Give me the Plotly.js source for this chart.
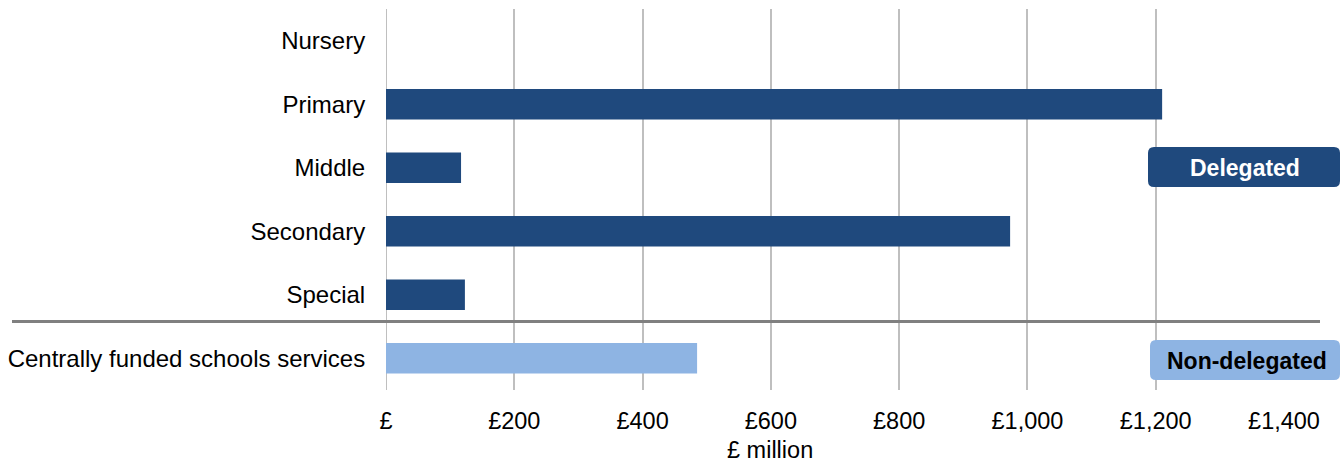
<!DOCTYPE html>
<html>
<head>
<meta charset="utf-8">
<script src="https://cdn.plot.ly/plotly-3.0.1.min.js"></script>
<style>html,body{margin:0;padding:0;background:#fff;}#chart{width:1343px;height:463px;}</style>
</head>
<body>
<div id="chart"></div>
<script>
const categories = ["Nursery", "Primary", "Middle", "Secondary", "Special", "Centrally funded schools services"];
const values = [0, 1210, 117, 973, 123, 485];
const groups = ["Delegated", "Delegated", "Delegated", "Delegated", "Delegated", "Non-delegated"];
const tickValues = [0, 200, 400, 600, 800, 1000, 1200, 1400];
const tickLabels = ["£", "£200", "£400", "£600", "£800", "£1,000", "£1,200", "£1,400"];
const groupLabels = ["Delegated", "Non-delegated"];
const axisTitle = "£ million";

const DARK = "#1F497D", LIGHT = "#8EB4E3";
const colorFor = g => g === "Delegated" ? DARK : LIGHT;

const trace = {
  type: "bar", orientation: "h",
  x: values, y: categories,
  marker: {color: groups.map(colorFor)},
  width: 0.48,
  hoverinfo: "x+y"
};

const plotL = 386, plotR = 1284, plotT = 9, plotB = 390;
const W = plotR - plotL, H = plotB - plotT;
const px = x => (x - plotL) / W;
const py = y => 1 - (y - plotT) / H;

function roundRect(x0, y0, x1, y1, r) {
  const X0 = px(x0), X1 = px(x1), Y0 = py(y0), Y1 = py(y1);
  const rx = r / W, ry = r / H;
  return `M ${X0+rx},${Y0} L ${X1-rx},${Y0} Q ${X1},${Y0} ${X1},${Y0-ry} L ${X1},${Y1+ry} Q ${X1},${Y1} ${X1-rx},${Y1} L ${X0+rx},${Y1} Q ${X0},${Y1} ${X0},${Y1+ry} L ${X0},${Y0-ry} Q ${X0},${Y0} ${X0+rx},${Y0} Z`;
}

const layout = {
  width: 1343, height: 463,
  margin: {l: plotL, r: 1343 - plotR, t: plotT, b: 463 - plotB, pad: 0},
  paper_bgcolor: "#fff", plot_bgcolor: "#fff",
  font: {family: "Liberation Sans, Arial, sans-serif", size: 24, color: "#000"},
  showlegend: false,
  xaxis: {
    range: [0, 1400],
    tickvals: tickValues, ticktext: tickLabels,
    showgrid: true, gridcolor: "#BFBFBF", gridwidth: 2,
    zeroline: false, showline: false,
    ticks: "outside", ticklen: 10, tickcolor: "rgba(0,0,0,0)",
    tickfont: {size: 23.5},
    fixedrange: true
  },
  yaxis: {
    type: "category",
    autorange: "reversed",
    showgrid: false, zeroline: false, showline: false,
    ticks: "outside", ticklen: 15, tickcolor: "rgba(0,0,0,0)",
    tickfont: {size: 24},
    fixedrange: true
  },
  shapes: [
    {type: "line", xref: "paper", yref: "y", x0: px(12), x1: px(1320), y0: 4.42, y1: 4.42,
     line: {color: "#808080", width: 3}},
    {type: "line", xref: "x", yref: "paper", x0: 0, x1: 0, y0: 0, y1: 1,
     line: {color: "#BFBFBF", width: 2}, layer: "below"},
    {type: "path", xref: "paper", yref: "paper", path: roundRect(1148, 147, 1340, 187, 6),
     fillcolor: DARK, line: {width: 0}},
    {type: "path", xref: "paper", yref: "paper", path: roundRect(1150, 340, 1340, 380, 6),
     fillcolor: LIGHT, line: {width: 0}}
  ],
  annotations: [
    {xref: "paper", yref: "paper", x: px(1245), y: py(168), text: "<b>" + groupLabels[0] + "</b>",
     showarrow: false, font: {size: 23, color: "#fff"}, xanchor: "center", yanchor: "middle"},
    {xref: "paper", yref: "paper", x: px(1247), y: py(361), text: "<b>" + groupLabels[1] + "</b>",
     showarrow: false, font: {size: 23, color: "#000"}, xanchor: "center", yanchor: "middle"},
    {xref: "paper", yref: "paper", x: px(770), y: py(450), text: axisTitle,
     showarrow: false, font: {size: 23.5, color: "#000"}, xanchor: "center", yanchor: "middle"}
  ]
};

Plotly.newPlot("chart", [trace], layout, {displayModeBar: false, staticPlot: true});
</script>
</body>
</html>
